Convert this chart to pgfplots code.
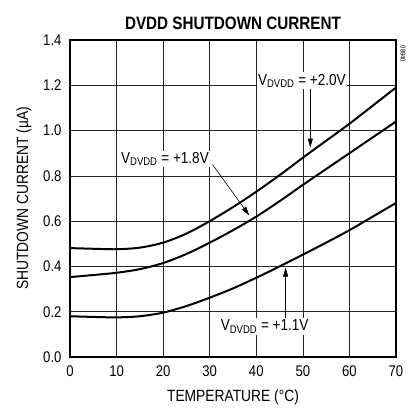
\documentclass[border=0pt]{standalone}
\usepackage{fontspec}
\setmainfont{Liberation Sans}[FakeStretch=0.85]
\usepackage{pgfplots}
\pgfplotsset{compat=1.18}
\usetikzlibrary{arrows.meta}
\begin{document}
\begin{tikzpicture}[x=1bp,y=1bp]
\useasboundingbox (-70,-54) rectangle (339,357);
\begin{axis}[
  at={(0,0)}, anchor=south west,
  scale only axis, width=326bp, height=317bp,
  xmin=0, xmax=70, ymin=0, ymax=1.4,
  xtick={0,10,...,70}, ytick={0,0.2,...,1.4},
  yticklabel style={/pgf/number format/fixed,/pgf/number format/fixed zerofill,/pgf/number format/precision=1, xshift=-5bp},
  /pgf/number format/assume math mode=true,
  tick label style={font=\fontsize{15.5}{17}\selectfont},
  label style={font=\fontsize{16.3}{18}\selectfont},
  title style={font=\fontsize{18}{20}\selectfont\bfseries, yshift=1bp},
  title={DVDD SHUTDOWN CURRENT},
  xlabel={TEMPERATURE (°C)},
  ylabel={SHUTDOWN CURRENT (µA)},
  grid=major, major grid style={black!85, line width=0.6pt},
  major tick length=0pt,
  axis line style={black, line width=2.2pt},
  xticklabel style={yshift=-5bp},
  xlabel style={yshift=-6bp},
  ylabel style={yshift=5bp},
  every axis plot/.append style={black, line width=2pt, no marks, smooth},
  clip=true,
]
\addplot[black] coordinates {(0,0.481) (5,0.478) (10,0.476) (15,0.483) (20,0.505) (25,0.545) (30,0.600) (35,0.662) (40,0.730) (45,0.803) (50,0.880) (55,0.955) (60,1.030) (65,1.110) (70,1.190)};
\addplot[black] coordinates {(0,0.353) (5,0.362) (10,0.372) (15,0.388) (20,0.415) (25,0.455) (30,0.505) (35,0.560) (40,0.620) (45,0.688) (50,0.760) (55,0.830) (60,0.900) (65,0.970) (70,1.040)};
\addplot[black] coordinates {(0,0.180) (5,0.177) (10,0.175) (15,0.180) (20,0.196) (25,0.225) (30,0.262) (35,0.303) (40,0.350) (45,0.400) (50,0.452) (55,0.505) (60,0.560) (65,0.620) (70,0.680)};
\draw[line width=0.6pt, -{Triangle[length=9bp,width=5bp]}] (axis cs:51.6,1.20) -- (axis cs:51.6,0.925);
\draw[line width=0.6pt, -{Triangle[length=9bp,width=5bp]}] (axis cs:30.6,0.85) -- (axis cs:38.5,0.625);
\draw[line width=0.6pt, -{Triangle[length=9bp,width=5bp]}] (axis cs:46.3,0.15) -- (axis cs:46.3,0.395);
\node[fill=white, inner sep=1.5bp, font=\fontsize{16}{18}\selectfont] at (axis cs:49.8,1.22) {V\textsubscript{DVDD} = +2.0V};
\node[fill=white, inner sep=1.5bp, font=\fontsize{16}{18}\selectfont] at (axis cs:20.4,0.875) {V\textsubscript{DVDD} = +1.8V};
\node[fill=white, inner sep=1.5bp, font=\fontsize{16}{18}\selectfont] at (axis cs:41.8,0.135) {V\textsubscript{DVDD} = +1.1V};
\end{axis}
\node[rotate=-90, font=\fontsize{7}{8}\selectfont, anchor=center] at (333,303) {08940};
\end{tikzpicture}
\end{document}
